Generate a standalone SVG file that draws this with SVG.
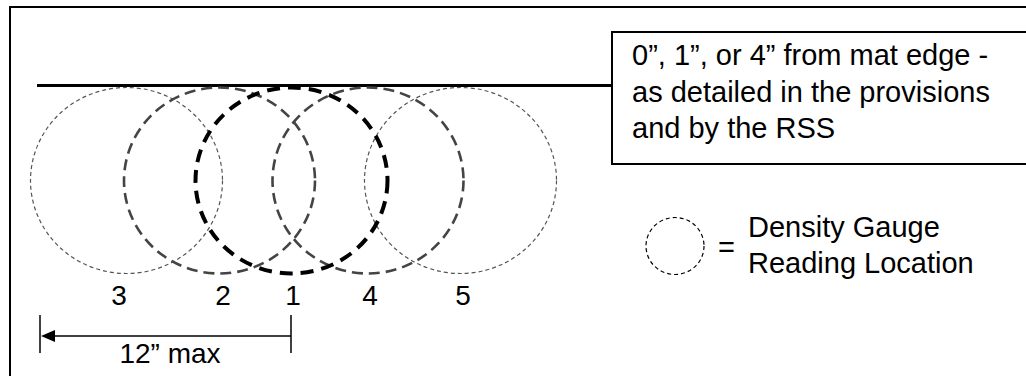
<svg xmlns="http://www.w3.org/2000/svg" width="1026" height="376" viewBox="0 0 1026 376">
<style>
  text { font-family: "Liberation Sans", Arial, sans-serif; fill: #000; }
  .big { font-size: 29px; }
  .num { font-size: 28px; text-anchor: middle; }
  .thin { fill: none; stroke: #555; stroke-width: 1.2; stroke-dasharray: 4 3; }
  .mid { fill: none; stroke: #444; stroke-width: 2.6; stroke-dasharray: 11 6; }
  .bold { fill: none; stroke: #000; stroke-width: 4; stroke-dasharray: 13 8; }
</style>
<defs>
  <marker id="arrow" viewBox="0 0 14 12" refX="0" refY="6" markerWidth="14" markerHeight="12" markerUnits="userSpaceOnUse" orient="auto">
    <path d="M0,0 L14,6 L0,12 Z" fill="#000"/>
  </marker>
</defs>
<rect width="1026" height="376" fill="#fff"/>
<g id="frame">
  <rect x="10" y="7" width="1100" height="450" fill="none" stroke="#000" stroke-width="2"/>
</g>
<g id="mat-edge">
  <line x1="37" y1="85.5" x2="612" y2="85.5" stroke="#000" stroke-width="3"/>
</g>
<g id="loc3"><ellipse class="thin" cx="126.5" cy="180.5" rx="96" ry="93"/><text class="num" x="119" y="305">3</text></g>
<g id="loc5"><ellipse class="thin" cx="460.5" cy="180.5" rx="96" ry="93"/><text class="num" x="463" y="305">5</text></g>
<g id="loc2"><ellipse class="mid" cx="219.5" cy="180.5" rx="95.5" ry="93"/><text class="num" x="223" y="305">2</text></g>
<g id="loc4"><ellipse class="mid" cx="368" cy="180.5" rx="95.5" ry="93"/><text class="num" x="370" y="305">4</text></g>
<g id="loc1"><ellipse class="bold" cx="291.5" cy="180.5" rx="96" ry="93"/><text class="num" x="293" y="305">1</text></g>
<g id="note">
  <rect x="612" y="32" width="450" height="132" fill="#fff" stroke="#000" stroke-width="2"/>
  <text class="big" x="632" y="65">0”, 1”, or 4” from mat edge -</text>
  <text class="big" x="632" y="102">as detailed in the provisions</text>
  <text class="big" x="632" y="138">and by the RSS</text>
</g>
<g id="legend">
  <ellipse cx="675" cy="246" rx="29" ry="28.5" fill="none" stroke="#000" stroke-width="1.2" stroke-dasharray="4 3"/>
  <text class="big" x="718" y="257">=</text>
  <text class="big" x="748" y="237">Density Gauge</text>
  <text class="big" x="748" y="273">Reading Location</text>
</g>
<g id="connectors">
  <line x1="40" y1="315" x2="40" y2="353" stroke="#000" stroke-width="1.5"/>
  <line x1="291" y1="315" x2="291" y2="353" stroke="#000" stroke-width="1.5"/>
  <line x1="291" y1="336" x2="55" y2="336" stroke="#000" stroke-width="1.5" marker-end="url(#arrow)"/>
  <text class="num" x="170" y="363">12” max</text>
</g>
</svg>
